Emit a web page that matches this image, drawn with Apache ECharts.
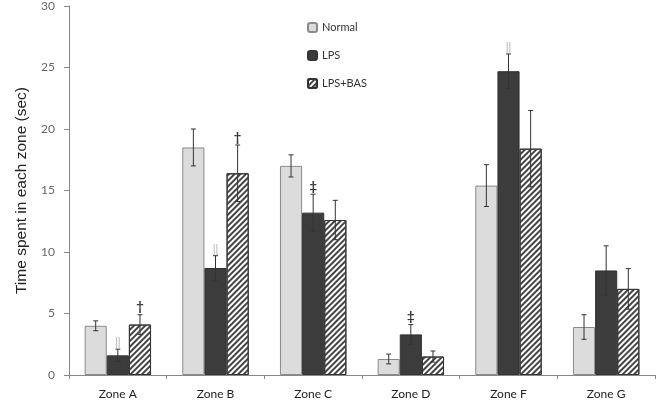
<!DOCTYPE html>
<html>
<head>
<meta charset="utf-8">
<script src="https://cdn.jsdelivr.net/npm/echarts@6/dist/echarts.min.js"></script>
<style>
  html, body { margin: 0; padding: 0; background: #fff; }
  #chart { width: 662px; height: 406px; }
</style>
</head>
<body>
<div id="chart"></div>
<script>
const zones = ['Zone A', 'Zone B', 'Zone C', 'Zone D', 'Zone F', 'Zone G'];
const normal = [4.0, 18.5, 17.0, 1.3, 15.4, 3.9];
const normalErr = [0.4, 1.5, 0.9, 0.4, 1.7, 1.0];
const lps = [1.6, 8.7, 13.2, 3.3, 24.7, 8.5];
const lpsErr = [0.5, 1.0, 1.5, 0.8, 1.4, 2.0];
const bas = [4.1, 16.4, 12.6, 1.5, 18.4, 7.0];
const basErr = [0.8, 2.3, 1.6, 0.45, 3.1, 1.65];
// significance marks drawn above the error bars
const lpsMarks = ['||', '||', '‡', '‡', '||', ''];
const basMarks = ['†', '†', '', '', '', ''];

const FONT = 'Lato';
const GAP = 0.32; // barCategoryGap as a fraction

const chart = echarts.init(document.getElementById('chart'));

// error bars + marks for one series, index k = 0,1,2 inside the group
function errSeries(vals, errs, marks, k) {
  return {
    type: 'custom',
    silent: true,
    z: 5,
    data: vals.map((v, i) => [i, v, errs[i]]),
    renderItem: function (params, api) {
      const i = api.value(0);
      const v = api.value(1);
      const e = api.value(2);
      const band = api.size([1, 0])[0];
      const bw = band * (1 - GAP) / 3;
      const cx = api.coord([i, 0])[0] + (k - 1) * bw;
      const top = api.coord([i, v + e])[1];
      const bot = api.coord([i, v - e])[1];
      const cap = 2.5;
      const ls = { stroke: '#333', lineWidth: 1 };
      const kids = [
        { type: 'line', shape: { x1: cx, y1: top, x2: cx, y2: bot }, style: ls },
        { type: 'line', shape: { x1: cx - cap, y1: top, x2: cx + cap, y2: top }, style: ls },
        { type: 'line', shape: { x1: cx - cap, y1: bot, x2: cx + cap, y2: bot }, style: ls }
      ];
      const m = marks ? marks[i] : '';
      if (m) {
        kids.push({
          type: 'text',
          style: {
            text: m, x: cx, y: top - 1,
            align: 'center', verticalAlign: 'bottom',
            fill: m === '||' ? '#aaa' : '#333',
            font: (m === '||' ? '11px ' : 'bold 13px ') + FONT
          }
        });
      }
      return { type: 'group', children: kids };
    }
  };
}

const option = {
  animation: false,
  grid: { left: 69, right: 7, top: 6, bottom: 31 },
  legend: {
    orient: 'vertical',
    left: 302,
    top: 17,
    itemWidth: 9,
    itemHeight: 9,
    itemGap: 17,
    textStyle: { fontFamily: FONT, fontSize: 11, color: '#333' },
    data: ['Normal', 'LPS', 'LPS+BAS']
  },
  xAxis: {
    type: 'category',
    data: zones,
    axisLine: { lineStyle: { color: '#888' } },
    axisTick: { show: true, length: 4, lineStyle: { color: '#888' } },
    axisLabel: { fontFamily: FONT, fontSize: 12, color: '#222', margin: 13 }
  },
  yAxis: {
    type: 'value',
    min: 0,
    max: 30,
    interval: 5,
    name: 'Time spent in each zone (sec)',
    nameLocation: 'middle',
    nameGap: 39,
    nameTextStyle: { fontFamily: 'Liberation Sans', fontSize: 15.5, color: '#222' },
    splitLine: { show: false },
    axisLine: { show: true, lineStyle: { color: '#888' } },
    axisTick: { show: true, length: 5, lineStyle: { color: '#888' } },
    axisLabel: { fontFamily: FONT, fontSize: 12, color: '#666', margin: 14 }
  },
  series: [
    {
      name: 'Normal', type: 'bar', data: normal,
      barGap: '0%', barCategoryGap: (GAP * 100) + '%',
      itemStyle: { color: '#dcdcdc', borderColor: '#8a8a8a', borderWidth: 1 }
    },
    {
      name: 'LPS', type: 'bar', data: lps,
      itemStyle: { color: '#3c3c3c', borderColor: '#333', borderWidth: 1 }
    },
    {
      name: 'LPS+BAS', type: 'bar', data: bas,
      itemStyle: {
        color: '#ffffff', borderColor: '#333', borderWidth: 1,
        decal: {
          symbol: 'rect', symbolSize: 1, color: '#444',
          dashArrayX: [1, 0], dashArrayY: [1.5, 1.8], rotation: -Math.PI / 4
        }
      }
    },
    errSeries(normal, normalErr, null, 0),
    errSeries(lps, lpsErr, lpsMarks, 1),
    errSeries(bas, basErr, basMarks, 2)
  ]
};

chart.setOption(option);
</script>
</body>
</html>
